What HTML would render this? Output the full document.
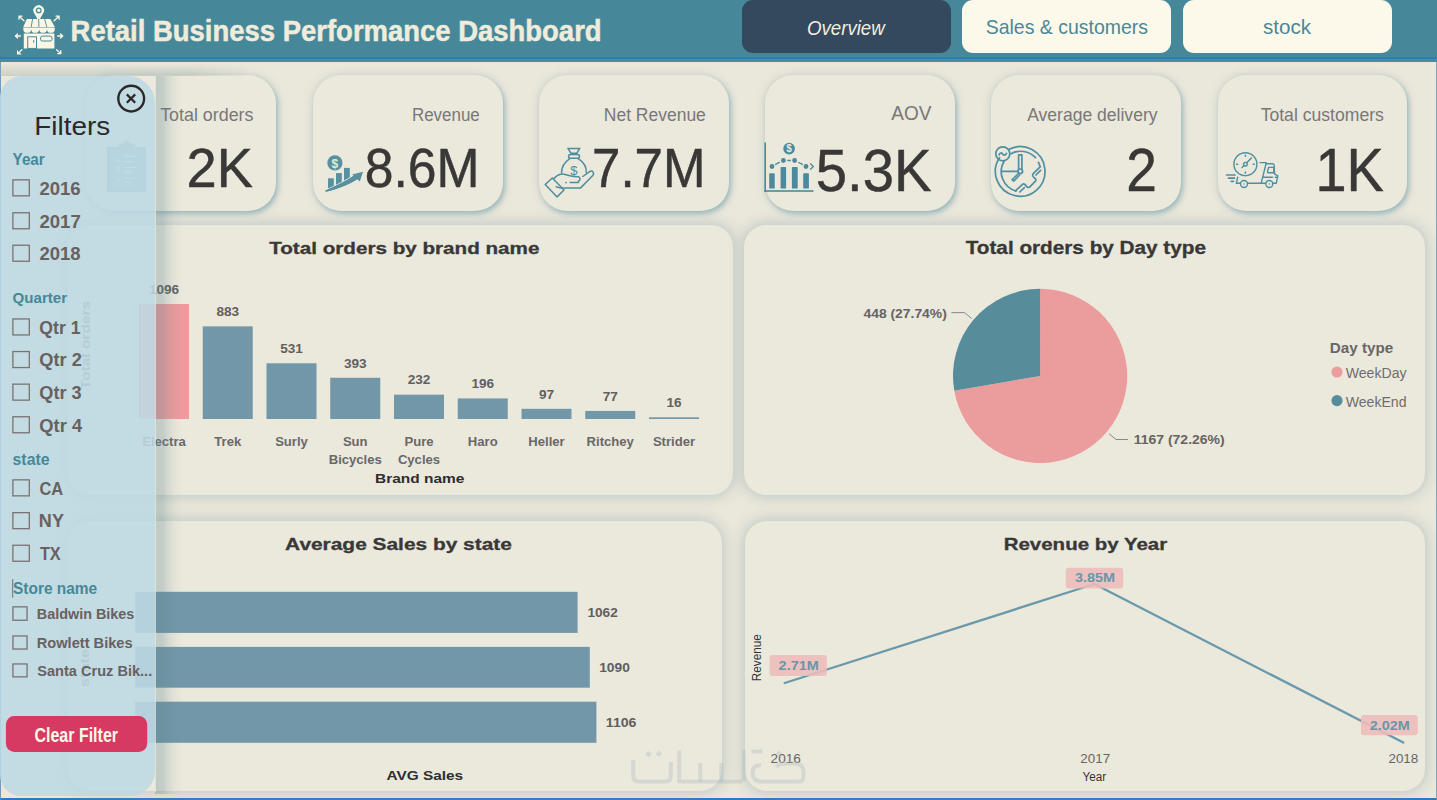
<!DOCTYPE html>
<html><head><meta charset="utf-8"><title>Retail Business Performance Dashboard</title>
<style>
*{margin:0;padding:0;box-sizing:border-box}
html,body{width:1437px;height:800px;overflow:hidden;background:#eae7db;font-family:"Liberation Sans",sans-serif}
#page{position:absolute;left:0;top:0;width:1437px;height:800px;background:#eae7db;border-left:1px solid #6f9cbc;border-right:1px solid #80a8c3;border-bottom:2px solid #2f79bd}
#hdr{position:absolute;left:0;top:0;width:1437px;height:61.5px;background:#46889a}
#hdrline{position:absolute;left:0;top:57px;width:1437px;height:2px;background:#2f79bd}
#hdrline2{position:absolute;left:0;top:59px;width:1437px;height:2.5px;background:#4e8b99}
.nav{position:absolute;top:0;height:53px;border-radius:11px}
.card{position:absolute;background:#ebe8dc;border-radius:28px;box-shadow:2px 3px 5px rgba(110,160,175,.55),0 0 9px rgba(140,165,170,.35)}
.ccard{position:absolute;background:#ebe8dc;border-radius:22px;box-shadow:0 0 13px 2px rgba(145,170,172,.48)}
svg{position:absolute;left:0;top:0;overflow:visible}
#panelshadow{position:absolute;left:155px;top:75.5px;width:28px;height:718px;background:linear-gradient(90deg,rgba(95,135,145,.3) 0,rgba(95,135,145,.28) 8px,rgba(95,135,145,.2) 11px,rgba(95,135,145,.12) 15px,rgba(95,135,145,.05) 20px,rgba(95,135,145,0) 27px)}
#topband{position:absolute;left:0;top:63px;width:250px;height:12.5px;background:linear-gradient(180deg,rgba(160,178,172,0),rgba(160,178,172,.42));-webkit-mask-image:linear-gradient(90deg,#000 75%,transparent)}
#panelline{position:absolute;left:155px;top:76px;width:1px;height:716px;background:rgba(240,236,222,.7)}
#panel{position:absolute;left:0;top:75.5px;width:155px;height:720.3px;background:rgba(189,218,228,.88);border-radius:22px 27px 25px 21px}
</style></head><body>
<div id="page"></div>
<div id="hdr"></div><div id="hdrline"></div><div id="hdrline2"></div>
<div class="nav" style="left:742px;width:208.8px;background:#34485e"></div>
<div class="nav" style="left:962px;width:209px;background:#fdf9ea"></div>
<div class="nav" style="left:1183px;width:209px;background:#fdf9ea"></div>
<div class="card" style="left:86.3px;top:74.5px;width:189.7px;height:136.5px"></div>
<div class="card" style="left:312.5px;top:74.5px;width:190px;height:136.5px"></div>
<div class="card" style="left:538.7px;top:74.5px;width:190px;height:136.5px"></div>
<div class="card" style="left:764.5px;top:74.5px;width:190.5px;height:136.5px"></div>
<div class="card" style="left:991px;top:74.5px;width:189.7px;height:136.5px"></div>
<div class="card" style="left:1217.7px;top:74.5px;width:189.7px;height:136.5px"></div>
<div class="ccard" style="left:68px;top:224.5px;width:664.7px;height:270.5px"></div>
<div class="ccard" style="left:744.3px;top:224.5px;width:681px;height:270.5px"></div>
<div class="ccard" style="left:68px;top:520.5px;width:654px;height:270.5px"></div>
<div class="ccard" style="left:745px;top:520.5px;width:680.3px;height:270.5px"></div>
<svg width="1437" height="800" viewBox="0 0 1437 800" font-family="Liberation Sans, sans-serif">
<g id="storeicon" fill="#fcf7e4" stroke="none">
<!-- pin -->
<path d="M38.7 21.2 L34.4 13.6 A5.3 5.3 0 1 1 43 13.6 Z"/>
<circle cx="38.7" cy="10.4" r="2.9" fill="#46879a"/>
<circle cx="38.7" cy="10.4" r="1.7"/>
<!-- awning -->
<path d="M26.8 18.9 L50.3 18.9 L54.8 27 L23.3 27 Z"/>
<g stroke="#46879a" stroke-width="0.9" fill="none">
<path d="M32.6 18.9 L31.2 27 M38.7 18.9 L38.9 27 M44.6 18.9 L46.8 27"/>
</g>
<path d="M23.3 27.6 h31.5 v1.3 a3.9 3.9 0 0 1 -7.8 0 a3.9 3.9 0 0 1 -7.9 0 a3.9 3.9 0 0 1 -7.9 0 a3.9 3.9 0 0 1 -7.9 0 Z"/>
<!-- body -->
<path d="M23.8 33.4 h30.6 v15 h-30.6 Z"/>
<rect x="27.7" y="36.8" width="8.8" height="11.6" fill="none" stroke="#46879a" stroke-width="1"/>
<rect x="33.3" y="40" width="0.9" height="2.8" fill="#46879a"/>
<rect x="40.6" y="36.1" width="11.4" height="4.9" rx="1.8" fill="none" stroke="#46879a" stroke-width="1"/>
<!-- arrows -->
<g stroke="#fcf7e4" stroke-width="1.3" fill="none" stroke-linecap="round">
<path d="M24 20.7 L19.3 16.5 M19 16.2 l0 3 M19 16.2 l3 0"/>
<path d="M54.1 20.7 L58.8 16.5 M59.1 16.2 l0 3 M59.1 16.2 l-3 0"/>
<path d="M20.5 36 L15.6 36 M15.4 36 l2.2 -2 M15.4 36 l2.2 2"/>
<path d="M57.6 36 L62.5 36 M62.7 36 l-2.2 -2 M62.7 36 l-2.2 2"/>
<path d="M21.9 49.7 L17.9 53.6 M17.6 53.9 l0 -3 M17.6 53.9 l3 0"/>
<path d="M56.6 49.7 L60.5 53.4 M60.8 53.7 l0 -3 M60.8 53.7 l-3 0"/>
</g>
</g>

<text x="70.62" y="41" font-size="28.91" font-weight="700" fill="#efecdc" textLength="530.98" lengthAdjust="spacingAndGlyphs" stroke="#efecdc" stroke-width="0.5">Retail Business Performance Dashboard</text>
<text x="806.97" y="35" font-size="19.6" font-style="italic" fill="#f3efdc" textLength="77.75" lengthAdjust="spacingAndGlyphs">Overview</text>
<text x="985.72" y="34.2" font-size="19.41" fill="#4b8798" textLength="162.29" lengthAdjust="spacingAndGlyphs">Sales &amp; customers</text>
<text x="1262.98" y="34.2" font-size="19.4" fill="#4b8798" textLength="48.0" lengthAdjust="spacingAndGlyphs">stock</text>
<!-- KPI icons -->
<g id="kpiicons">
<!-- clipboard (under panel) -->
<g fill="#78a9b7">
<path d="M106.9 147 h11.2 v-1.5 a2 2 0 0 1 2 -2 h3.5 a3.3 3.3 0 0 1 6.4 0 h3.5 a2 2 0 0 1 2 2 v1.5 h10.5 v45 h-39.1 Z"/>
</g>
<rect x="110.9" y="150" width="31.9" height="39" fill="#86b2be"/>
<g stroke="#d8ebef" stroke-width="1" fill="none">
<path d="M124 156.5 h12 M124 161.5 h9 M124 167.5 h13 M124 171.5 h8 M124 178 h12 M124 182.5 h9"/>
</g>
<g font-size="7" font-family="Liberation Sans" fill="#d8ebef"><text x="116" y="161.5">1</text><text x="116" y="172">2</text><text x="116" y="183">3</text></g>

<!-- revenue icon -->
<g fill="#57909f">
<circle cx="334.9" cy="162.9" r="7.6"/>
<rect x="328" y="178.3" width="5.8" height="10.4"/>
<rect x="336" y="173.1" width="5.8" height="12.8"/>
<rect x="344" y="167.9" width="5.8" height="14.2"/>
<path d="M325.6 191.8 C338 189 348 185 357.3 179.3 L354.6 175.2 C345 181.6 336 186 325.6 190.4 Z" stroke="#ebe8dc" stroke-width="1.6" paint-order="stroke"/>
<path d="M325.6 191.8 C338 189 348 185 357.3 179.3 L354.6 175.2 C345 181.6 336 186 325.6 190.4 Z"/>
<path d="M352.2 174.4 L363 171.7 L359.8 181.6 Z"/>
</g>
<text x="334.9" y="167.6" font-size="12" font-weight="700" fill="#ebe8dc" text-anchor="middle" font-family="Liberation Sans">$</text>

<!-- net revenue icon -->
<g fill="none" stroke="#4f8d9d" stroke-width="1.5" stroke-linejoin="round" stroke-linecap="round">
<path d="M567.9 148.4 L579.8 148.4 L576.7 153.3 L571 153.3 Z"/>
<rect x="568.6" y="154.6" width="10.9" height="3.6" rx="1.8"/>
<path d="M569.8 158.6 C564 162.5 561.4 167.5 561.6 172.8"/>
<path d="M578.2 158.6 C584.3 162.5 586.6 167.5 586.2 172.4"/>
<path d="M554 178.4 C557.5 175 561 173.8 564 174.2 C568 174.8 571 176.4 574.5 176.6 L578.3 176.8 C580.8 177.2 580.6 180.6 578.3 181.2"/>
<path d="M570.2 182.6 L578.5 182.6"/>
<path d="M556.2 186.8 L560.7 188.1 L580.4 188.1 L592.8 175.5 C594.8 173 592.5 169.8 589.6 171.6 L582.8 176.5"/>
<path d="M545.2 184.5 L552.3 178 L564 190 L557.1 196.9 Z"/>
</g>
<circle cx="566" cy="182.6" r="0.9" fill="#4f8d9d"/>
<text x="573.9" y="174.8" font-size="13" fill="#4f8d9d" text-anchor="middle" font-family="Liberation Sans">$</text>

<!-- AOV icon -->
<g fill="#4a8a9c">
<rect x="764.4" y="142.4" width="1.6" height="49.6"/>
<rect x="764.4" y="190.2" width="49.1" height="1.6"/>
<rect x="769.2" y="173.3" width="5.5" height="15.2" rx=".6"/>
<rect x="780.6" y="167.1" width="5.5" height="21.4" rx=".6"/>
<rect x="791.9" y="167.1" width="5.8" height="21.4" rx=".6"/>
<rect x="803.2" y="173.3" width="5.7" height="15.2" rx=".6"/>
<circle cx="772" cy="166.5" r="2.4"/>
<circle cx="783.4" cy="160.5" r="2.4"/>
<circle cx="794.6" cy="160.5" r="2.4"/>
<circle cx="806" cy="166.5" r="2.4"/>
<circle cx="789.1" cy="148.6" r="5.8"/>
</g>
<g stroke="#4a8a9c" stroke-width="1.3" fill="none">
<path d="M775.2 164.6 L779.8 162.2 M787.3 160.5 L790.8 160.5 M798.3 162.2 L802.8 164.6"/>
<path d="M810.2 163.5 L813.3 166.5 L810.2 169.5"/>
</g>
<text x="789.1" y="152.4" font-size="10" font-weight="700" fill="#ebe8dc" text-anchor="middle" font-family="Liberation Sans">$</text>

<!-- avg delivery icon -->
<g fill="none" stroke="#4f8fa1" stroke-width="1.7" stroke-linecap="round">
<path d="M1009 149.3 A24.8 24.8 0 1 1 999.6 157.6"/>
<path d="M1011 153.8 A20.2 20.2 0 0 1 1035.5 157.6"/>
<path d="M1004.1 161.2 A20.2 20.2 0 0 0 1016 191"/>
<circle cx="1002.8" cy="153.8" r="7"/>
<path d="M999 154.8 C1000 152.5 1001.5 152.5 1002.5 154 C1003.5 155.5 1005 155.5 1006.5 153.4"/>
<path d="M1002.5 171.3 L1017.7 171.3"/>
<path d="M1018.6 154.8 L1018.6 169.3 M1021.9 154.8 L1021.9 169.6 M1018.6 154.8 L1021.9 154.8"/>
<circle cx="1020.3" cy="171.3" r="2.3"/>
<path d="M1018.4 173.5 L1012.2 179.6 L1013.8 181 L1019.6 175"/>
<path d="M1040.4 166.7 L1033 173.8 Q1031.8 175.3 1033.3 176.8 L1035.5 178.8 Q1036.6 180 1035.5 181.2 L1029.6 187 Q1028.3 188 1027 186.8 L1025 184.6 Q1023.8 183.3 1022.4 184.4 L1018.3 188.4"/>
<path d="M1040.6 170.4 L1036 175 M1024.3 187.6 L1019.8 192"/>
<path d="M1038.5 162.4 L1039.7 165.5 M1017.2 189 L1015.6 191.2"/>
</g>

<!-- customers icon -->
<g fill="none" stroke="#4f8fa1" stroke-width="1.4" stroke-linecap="round" stroke-linejoin="round">
<circle cx="1245.4" cy="164.2" r="11.5"/>
<circle cx="1245.4" cy="164.2" r="1.8"/>
<path d="M1246.7 162.8 L1251.4 157.9 M1244.1 165.6 L1242.1 167.6"/>
<path d="M1245.4 155.2 v1.2 M1245.4 172 v1.2 M1236.5 164.2 h1.2 M1253.2 164.2 h1.2"/>
<path d="M1237.7 177.2 L1236.4 183.2 L1240.3 183.2 M1247.6 183.2 L1265.6 183.2 M1272.9 183.2 L1276.3 183.2 L1277.8 175.8 L1274.5 173.9 L1274.2 165.6 C1274.2 164.6 1273.6 163.8 1272.6 163.8 L1266 163.8"/>
<path d="M1260.1 162.6 L1266.3 162.6 L1261.2 183.2"/>
<path d="M1268.6 167.4 L1273.8 167.4 L1273.8 172.8 L1268.4 172.8 C1267.6 172.8 1267.4 172 1267.6 171 Z"/>
<path d="M1262.8 177.2 L1272.4 177.2 M1275.3 177.2 L1277 177.2"/>
<circle cx="1244" cy="184" r="3.5"/>
<circle cx="1269.3" cy="184" r="3.5"/>
</g>
<g stroke="#4f8fa1" stroke-width="1.7" stroke-linecap="round">
<path d="M1226.6 175 L1235 175 M1228.5 178.2 L1234.5 178.2 M1231.2 181.3 L1233.4 181.3"/>
</g>
<circle cx="1244" cy="184" r="0.7" fill="#4f8fa1"/><circle cx="1269.3" cy="184" r="0.7" fill="#4f8fa1"/>
</g>

<text x="160.14" y="120.8" font-size="18.02" fill="#787878" textLength="93.38" lengthAdjust="spacingAndGlyphs">Total orders</text>
<text x="411.94" y="120.8" font-size="18.02" fill="#787878" textLength="67.87" lengthAdjust="spacingAndGlyphs">Revenue</text>
<text x="603.8" y="120.8" font-size="18.02" fill="#787878" textLength="102.02" lengthAdjust="spacingAndGlyphs">Net Revenue</text>
<text x="891.3" y="120" font-size="20.53" fill="#787878" textLength="40.13" lengthAdjust="spacingAndGlyphs">AOV</text>
<text x="1027.2" y="120.8" font-size="18.02" fill="#787878" textLength="130.31" lengthAdjust="spacingAndGlyphs">Average delivery</text>
<text x="1260.65" y="120.8" font-size="18.02" fill="#787878" textLength="123.23" lengthAdjust="spacingAndGlyphs">Total customers</text>
<text x="186.59" y="186.9" font-size="56.42" fill="#393837" textLength="66.33" lengthAdjust="spacingAndGlyphs" stroke="#393837" stroke-width="0.5">2K</text>
<text x="364.78" y="186.8" font-size="55.45" fill="#393837" textLength="114.72" lengthAdjust="spacingAndGlyphs" stroke="#393837" stroke-width="0.5">8.6M</text>
<text x="592.05" y="187" font-size="55.73" fill="#393837" textLength="113.29" lengthAdjust="spacingAndGlyphs" stroke="#393837" stroke-width="0.5">7.7M</text>
<text x="815.75" y="190.9" font-size="59.92" fill="#393837" textLength="115.74" lengthAdjust="spacingAndGlyphs" stroke="#393837" stroke-width="0.5">5.3K</text>
<text x="1126.24" y="190.8" font-size="61.03" fill="#393837" textLength="30.68" lengthAdjust="spacingAndGlyphs" stroke="#393837" stroke-width="0.5">2</text>
<text x="1315.56" y="191" font-size="60.2" fill="#393837" textLength="68.27" lengthAdjust="spacingAndGlyphs" stroke="#393837" stroke-width="0.5">1K</text>
<text x="269.19" y="253.6" font-size="16.9" font-weight="700" fill="#383838" textLength="270.24" lengthAdjust="spacingAndGlyphs" stroke="#383838" stroke-width="0.3">Total orders by brand name</text>
<text x="965.69" y="253.7" font-size="17.46" font-weight="700" fill="#383838" textLength="240.25" lengthAdjust="spacingAndGlyphs" stroke="#383838" stroke-width="0.3">Total orders by Day type</text>
<text x="285.08" y="549.8" font-size="17.04" font-weight="700" fill="#383838" textLength="226.82" lengthAdjust="spacingAndGlyphs" stroke="#383838" stroke-width="0.3">Average Sales by state</text>
<text x="1003.67" y="549.9" font-size="17.18" font-weight="700" fill="#383838" textLength="163.57" lengthAdjust="spacingAndGlyphs" stroke="#383838" stroke-width="0.3">Revenue by Year</text>
<rect x="139.00" y="304.00" width="50" height="115.00" fill="#ec9b9c"/>
<text x="164.00" y="293.80" font-size="13.6" font-weight="700" fill="#616060" text-anchor="middle">1096</text>
<text x="164.00" y="445.90" font-size="13.1" font-weight="700" fill="#696868" text-anchor="middle">Electra</text>
<rect x="202.75" y="326.35" width="50" height="92.65" fill="#7197a8"/>
<text x="227.75" y="316.15" font-size="13.6" font-weight="700" fill="#616060" text-anchor="middle">883</text>
<text x="227.75" y="445.90" font-size="13.1" font-weight="700" fill="#696868" text-anchor="middle">Trek</text>
<rect x="266.50" y="363.28" width="50" height="55.72" fill="#7197a8"/>
<text x="291.50" y="353.08" font-size="13.6" font-weight="700" fill="#616060" text-anchor="middle">531</text>
<text x="291.50" y="445.90" font-size="13.1" font-weight="700" fill="#696868" text-anchor="middle">Surly</text>
<rect x="330.25" y="377.76" width="50" height="41.24" fill="#7197a8"/>
<text x="355.25" y="367.56" font-size="13.6" font-weight="700" fill="#616060" text-anchor="middle">393</text>
<text x="355.25" y="445.90" font-size="13.1" font-weight="700" fill="#696868" text-anchor="middle">Sun</text>
<text x="355.25" y="463.50" font-size="13.1" font-weight="700" fill="#696868" text-anchor="middle">Bicycles</text>
<rect x="394.00" y="394.66" width="50" height="24.34" fill="#7197a8"/>
<text x="419.00" y="384.46" font-size="13.6" font-weight="700" fill="#616060" text-anchor="middle">232</text>
<text x="419.00" y="445.90" font-size="13.1" font-weight="700" fill="#696868" text-anchor="middle">Pure</text>
<text x="419.00" y="463.50" font-size="13.1" font-weight="700" fill="#696868" text-anchor="middle">Cycles</text>
<rect x="457.75" y="398.43" width="50" height="20.57" fill="#7197a8"/>
<text x="482.75" y="388.23" font-size="13.6" font-weight="700" fill="#616060" text-anchor="middle">196</text>
<text x="482.75" y="445.90" font-size="13.1" font-weight="700" fill="#696868" text-anchor="middle">Haro</text>
<rect x="521.50" y="408.82" width="50" height="10.18" fill="#7197a8"/>
<text x="546.50" y="398.62" font-size="13.6" font-weight="700" fill="#616060" text-anchor="middle">97</text>
<text x="546.50" y="445.90" font-size="13.1" font-weight="700" fill="#696868" text-anchor="middle">Heller</text>
<rect x="585.25" y="410.92" width="50" height="8.08" fill="#7197a8"/>
<text x="610.25" y="400.72" font-size="13.6" font-weight="700" fill="#616060" text-anchor="middle">77</text>
<text x="610.25" y="445.90" font-size="13.1" font-weight="700" fill="#696868" text-anchor="middle">Ritchey</text>
<rect x="649.00" y="417.32" width="50" height="1.68" fill="#7197a8"/>
<text x="674.00" y="407.12" font-size="13.6" font-weight="700" fill="#616060" text-anchor="middle">16</text>
<text x="674.00" y="445.90" font-size="13.1" font-weight="700" fill="#696868" text-anchor="middle">Strider</text>
<text x="375.1" y="482.7" font-size="13.27" font-weight="700" fill="#2e2e2e" textLength="89.34" lengthAdjust="spacingAndGlyphs">Brand name</text>
<g transform="translate(89.5 389.2) rotate(-90)"><text x="-0.16" y="0" font-size="12" font-weight="700" fill="#6a6969" textLength="88.57" lengthAdjust="spacingAndGlyphs">Total orders</text></g>
<path d="M1040.1 375.9 L1040.1 288.79999999999995 A87.1 87.1 0 1 1 954.29 390.82 Z" fill="#eb9d9d"/>
<path d="M1040.1 375.9 L954.29 390.82 A87.1 87.1 0 0 1 1040.1 288.79999999999995 Z" fill="#578c9a"/>
<text x="863.49" y="317.8" font-size="13.41" font-weight="700" fill="#656464" textLength="83.29" lengthAdjust="spacingAndGlyphs">448 (27.74%)</text>
<text x="1133.66" y="444.4" font-size="13.41" font-weight="700" fill="#656464" textLength="91.04" lengthAdjust="spacingAndGlyphs">1167 (72.26%)</text>
<polyline points="951.4,312.6 964.5,312.6 971.7,318.5" fill="none" stroke="#8a8a8a" stroke-width="1"/>
<polyline points="1109,433.7 1116,439.5 1128,439.5" fill="none" stroke="#8a8a8a" stroke-width="1"/>
<text x="1329.81" y="353" font-size="14.53" font-weight="700" fill="#676767" textLength="63.48" lengthAdjust="spacingAndGlyphs">Day type</text>
<circle cx="1337" cy="372" r="5.6" fill="#eb9d9d"/><circle cx="1337" cy="400.6" r="5.6" fill="#578c9a"/>
<text x="1345.73" y="378" font-size="13.97" fill="#6e6e6e" textLength="60.79" lengthAdjust="spacingAndGlyphs">WeekDay</text>
<text x="1345.73" y="406.7" font-size="13.97" fill="#6e6e6e" textLength="60.82" lengthAdjust="spacingAndGlyphs">WeekEnd</text>
<rect x="135.2" y="591.8" width="442.4" height="41.1" fill="#7197a8"/>
<rect x="135.2" y="646.9" width="454.6" height="40.8" fill="#7197a8"/>
<rect x="135.2" y="701.7" width="461.2" height="41.1" fill="#7197a8"/>
<text x="587.38" y="616.9" font-size="13.69" font-weight="700" fill="#5f5e5e" textLength="30.36" lengthAdjust="spacingAndGlyphs">1062</text>
<text x="599.17" y="672.2" font-size="13.69" font-weight="700" fill="#5f5e5e" textLength="30.67" lengthAdjust="spacingAndGlyphs">1090</text>
<text x="605.85" y="726.8" font-size="13.41" font-weight="700" fill="#5f5e5e" textLength="30.63" lengthAdjust="spacingAndGlyphs">1106</text>
<text x="386.62" y="779.8" font-size="13.69" font-weight="700" fill="#2e2e2e" textLength="76.48" lengthAdjust="spacingAndGlyphs">AVG Sales</text>
<g transform="translate(89 686.4) rotate(-90)"><text x="-0.57" y="0" font-size="12" font-weight="700" fill="#6a6969" textLength="37.83" lengthAdjust="spacingAndGlyphs">state</text></g>
<polyline points="784.7,683 1094.4,584 1403.3,742.6" fill="none" stroke="#6a99ab" stroke-width="2.3" stroke-linejoin="round" stroke-linecap="round"/>
<rect x="769.6" y="655.1" width="57.3" height="20.8" rx="3" fill="#edbcba" fill-opacity=".88"/>
<rect x="1065.8" y="567.8" width="57.4" height="20.6" rx="3" fill="#edbcba" fill-opacity=".88"/>
<rect x="1361" y="715" width="56.8" height="20.2" rx="3" fill="#edbcba" fill-opacity=".88"/>
<text x="778.59" y="669.7" font-size="13.41" font-weight="700" fill="#6897a8" textLength="40.31" lengthAdjust="spacingAndGlyphs">2.71M</text>
<text x="1074.94" y="582.3" font-size="13.41" font-weight="700" fill="#6897a8" textLength="40.06" lengthAdjust="spacingAndGlyphs">3.85M</text>
<text x="1369.69" y="729.7" font-size="13.41" font-weight="700" fill="#6897a8" textLength="40.21" lengthAdjust="spacingAndGlyphs">2.02M</text>
<text x="770.62" y="762.75" font-size="13.62" fill="#666" textLength="30.22" lengthAdjust="spacingAndGlyphs">2016</text>
<text x="1080.33" y="762.75" font-size="13.62" fill="#666" textLength="29.84" lengthAdjust="spacingAndGlyphs">2017</text>
<text x="1388.43" y="762.75" font-size="13.62" fill="#666" textLength="29.91" lengthAdjust="spacingAndGlyphs">2018</text>
<text x="1082.61" y="780.75" font-size="11.87" fill="#353535" textLength="23.57" lengthAdjust="spacingAndGlyphs">Year</text>
<g transform="translate(761.3 680.3) rotate(-90)"><text x="-0.94" y="0" font-size="12.7" fill="#353535" textLength="47.0" lengthAdjust="spacingAndGlyphs">Revenue</text></g>
</svg>
<div id="topband"></div><div id="panelshadow"></div><div id="panelline"></div>
<div id="panel"></div>
<svg width="1437" height="800" viewBox="0 0 1437 800" font-family="Liberation Sans, sans-serif">
<circle cx="131.2" cy="98.6" r="12.9" fill="none" stroke="#2b2828" stroke-width="2.4"/>
<path d="M126.8 94.4 L135.2 102.8 M135.2 94.4 L126.8 102.8" stroke="#2b2828" stroke-width="2.2"/>
<text x="34.22" y="134.9" font-size="24.86" fill="#2d2828" textLength="75.92" lengthAdjust="spacingAndGlyphs">Filters</text>
<text x="12.6" y="164.9" font-size="16.48" font-weight="700" fill="#468898" textLength="32.11" lengthAdjust="spacingAndGlyphs">Year</text>
<text x="12.5" y="302.8" font-size="15.36" font-weight="700" fill="#468898" textLength="54.59" lengthAdjust="spacingAndGlyphs">Quarter</text>
<text x="12.55" y="465.1" font-size="16.5" font-weight="700" fill="#468898" textLength="37.0" lengthAdjust="spacingAndGlyphs">state</text>
<text x="13.04" y="594" font-size="16.2" font-weight="700" fill="#468898" textLength="84.13" lengthAdjust="spacingAndGlyphs">Store name</text>
<line x1="12.7" y1="579.2" x2="12.7" y2="597.6" stroke="#6f6f6f" stroke-width="1"/>
<rect x="12.9" y="179.85" width="16.4" height="16" fill="none" stroke="#7a7373" stroke-width="1.3"/>
<text x="39.4" y="194.8" font-size="17.6" font-weight="700" fill="#686161" textLength="41.24" lengthAdjust="spacingAndGlyphs">2016</text>
<rect x="12.9" y="212.75" width="16.4" height="16" fill="none" stroke="#7a7373" stroke-width="1.3"/>
<text x="39.4" y="227.5" font-size="17.6" font-weight="700" fill="#686161" textLength="41.34" lengthAdjust="spacingAndGlyphs">2017</text>
<rect x="12.9" y="245.25" width="16.4" height="16" fill="none" stroke="#7a7373" stroke-width="1.3"/>
<text x="39.4" y="260" font-size="17.6" font-weight="700" fill="#686161" textLength="41.15" lengthAdjust="spacingAndGlyphs">2018</text>
<rect x="12.9" y="318.95" width="16.4" height="16" fill="none" stroke="#7a7373" stroke-width="1.3"/>
<text x="39.35" y="333.8" font-size="17.6" font-weight="700" fill="#686161" textLength="41.13" lengthAdjust="spacingAndGlyphs">Qtr 1</text>
<rect x="12.9" y="351.55" width="16.4" height="16" fill="none" stroke="#7a7373" stroke-width="1.3"/>
<text x="39.32" y="366.4" font-size="17.6" font-weight="700" fill="#686161" textLength="42.44" lengthAdjust="spacingAndGlyphs">Qtr 2</text>
<rect x="12.9" y="384.15" width="16.4" height="16" fill="none" stroke="#7a7373" stroke-width="1.3"/>
<text x="39.32" y="399" font-size="17.6" font-weight="700" fill="#686161" textLength="42.34" lengthAdjust="spacingAndGlyphs">Qtr 3</text>
<rect x="12.9" y="416.75" width="16.4" height="16" fill="none" stroke="#7a7373" stroke-width="1.3"/>
<text x="39.32" y="431.6" font-size="17.6" font-weight="700" fill="#686161" textLength="42.81" lengthAdjust="spacingAndGlyphs">Qtr 4</text>
<rect x="12.9" y="479.85" width="16.4" height="16" fill="none" stroke="#7a7373" stroke-width="1.3"/>
<text x="39.39" y="494.6" font-size="17.6" font-weight="700" fill="#686161" textLength="23.79" lengthAdjust="spacingAndGlyphs">CA</text>
<rect x="12.9" y="512.65" width="16.4" height="16" fill="none" stroke="#7a7373" stroke-width="1.3"/>
<text x="38.88" y="527.3" font-size="17.6" font-weight="700" fill="#686161" textLength="25.02" lengthAdjust="spacingAndGlyphs">NY</text>
<rect x="12.9" y="545.25" width="16.4" height="16" fill="none" stroke="#7a7373" stroke-width="1.3"/>
<text x="39.89" y="559.9" font-size="17.6" font-weight="700" fill="#686161" textLength="20.87" lengthAdjust="spacingAndGlyphs">TX</text>
<rect x="12.95" y="606.85" width="14.1" height="13.4" fill="none" stroke="#7a7373" stroke-width="1.3"/>
<text x="36.76" y="619.4" font-size="13.9" font-weight="700" fill="#686161" textLength="97.61" lengthAdjust="spacingAndGlyphs">Baldwin Bikes</text>
<rect x="12.95" y="635.95" width="14.1" height="13.1" fill="none" stroke="#7a7373" stroke-width="1.3"/>
<text x="36.75" y="647.5" font-size="13.9" font-weight="700" fill="#686161" textLength="95.87" lengthAdjust="spacingAndGlyphs">Rowlett Bikes</text>
<rect x="12.95" y="663.95" width="14.1" height="12.9" fill="none" stroke="#7a7373" stroke-width="1.3"/>
<text x="37.26" y="675.6" font-size="13.9" font-weight="700" fill="#686161" textLength="114.94" lengthAdjust="spacingAndGlyphs">Santa Cruz Bik...</text>
<rect x="5.9" y="715.9" width="141.3" height="36.2" rx="8.5" fill="#d63a63"/>
<text x="34.46" y="741.6" font-size="19.97" font-weight="700" fill="#fdf8e6" textLength="83.57" lengthAdjust="spacingAndGlyphs">Clear Filter</text>
<g fill="none" stroke="#a8b9bc" stroke-opacity=".34" stroke-width="3.9" stroke-linejoin="round" stroke-linecap="butt"><path d="M633.2 760 L633.2 775.5 Q633.2 781.6 639.5 781.6 L665.5 781.6 Q670.8 781.6 670.8 776 L670.8 762"/><path d="M679.2 750.5 L679.2 781.6 L742 781.6"/><path d="M700.3 763 L700.3 781.6 M721.3 763 L721.3 781.6"/><path d="M743.8 750 L743.8 781.6 M751.5 751.5 L762.5 751.5 M762.5 781.6 Q752.5 781.6 752.5 773 Q752.5 765 761 765"/><path d="M762.5 781.6 L799 781.6 Q803.6 781.6 803.6 776 L803.6 772 Q803.6 764 795 763.5 L785 763.5 Q779 763.5 776.5 767"/></g>
<g fill="#a8b9bc" fill-opacity=".34"><path d="M648.5 751 l3.2 3.2 l-3.2 3.2 l-3.2 -3.2 Z M659 750.5 l3.2 3.2 l-3.2 3.2 l-3.2 -3.2 Z M779 750.5 l3 3 l-3 3 l-3 -3 Z"/></g>
</svg>
</body></html>
